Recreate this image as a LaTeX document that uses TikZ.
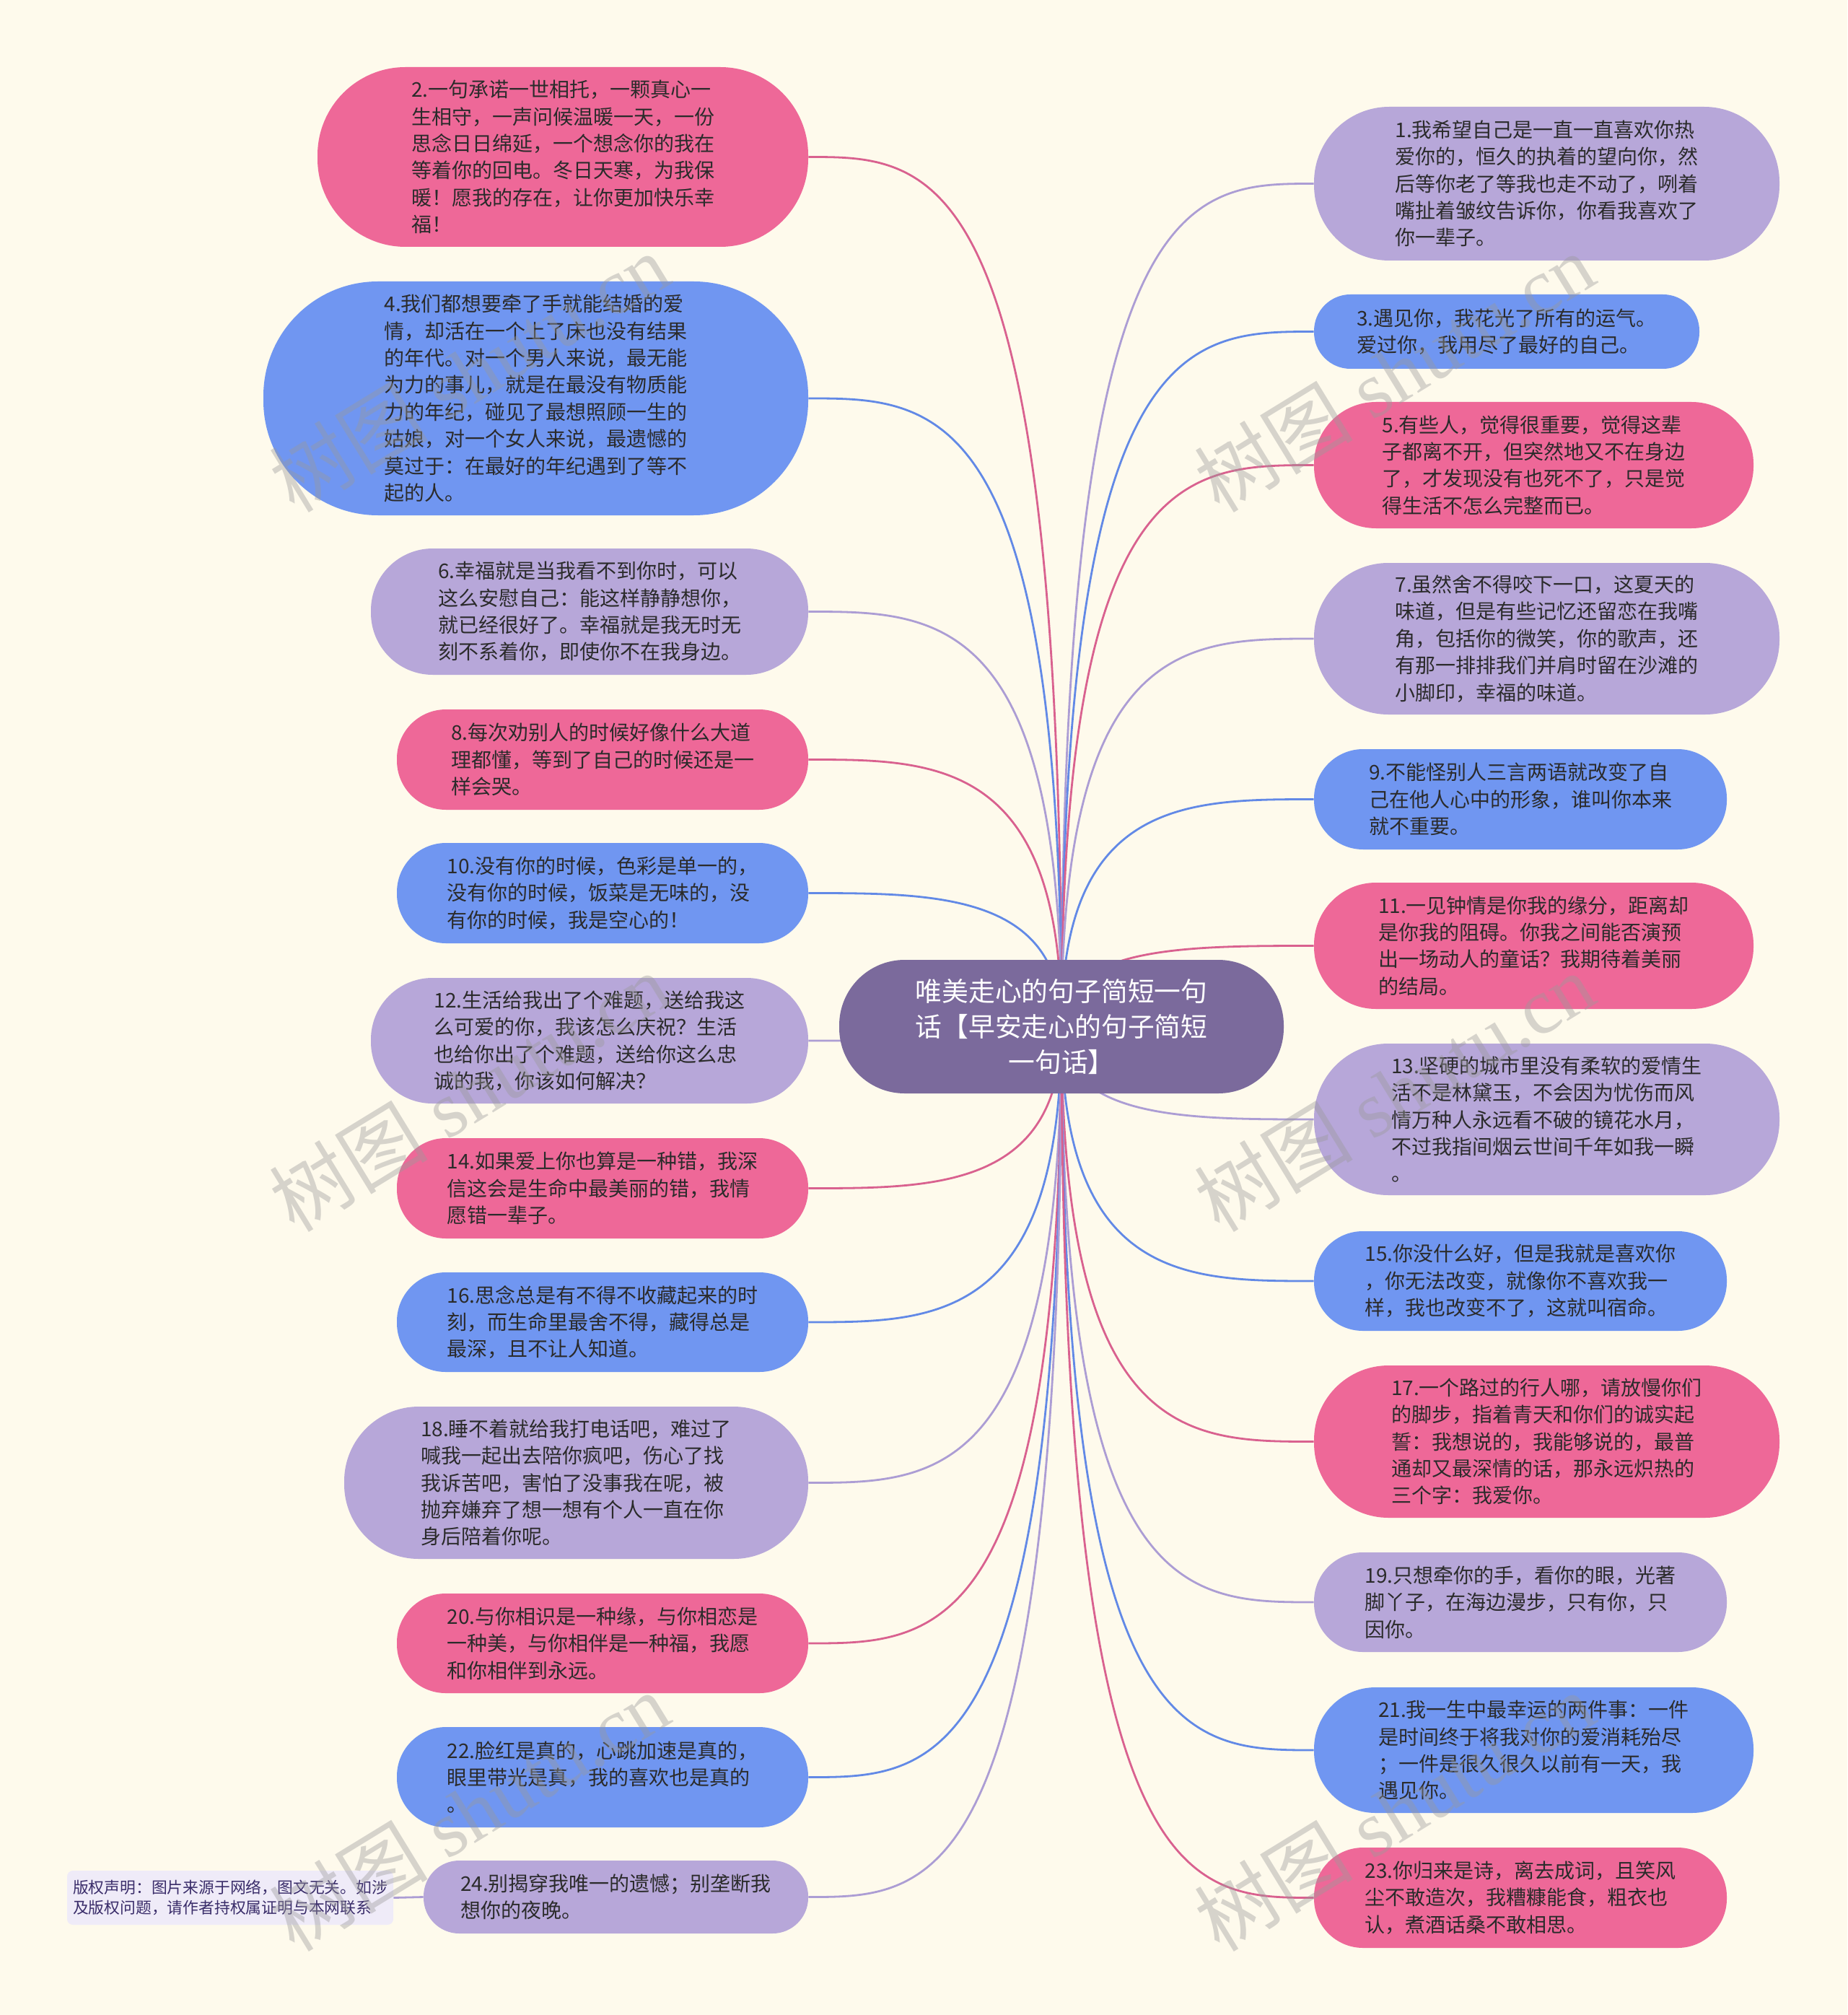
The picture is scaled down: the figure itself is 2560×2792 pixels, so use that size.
\documentclass[tikz,border=0pt]{standalone}
\usepackage{fontspec}
\newfontfamily\cjk{Noto Sans CJK SC}
\newfontfamily\wmfont{Liberation Serif}
\usetikzlibrary{calc,backgrounds}
\definecolor{bgc}{HTML}{FEFAEC}
\definecolor{pinkF}{HTML}{EE6898}
\definecolor{blueF}{HTML}{7096F1}
\definecolor{lavF}{HTML}{B7A7D9}
\definecolor{cenF}{HTML}{7B6A9C}
\definecolor{pinkL}{HTML}{D9618F}
\definecolor{blueL}{HTML}{6289E6}
\definecolor{lavL}{HTML}{AC9DD4}
\definecolor{txt}{HTML}{2B2B2B}
\definecolor{crF}{HTML}{EFEBF8}
\definecolor{crT}{HTML}{3A2D6A}
\definecolor{wmc}{HTML}{9A9A9A}
\newcommand{\mmlink}[2]{%
  \path (c.center |- #1) coordinate (tmpk);
  \draw[line width=1.4pt, #2] (c.center) .. controls (tmpk) and ($(tmpk)!0.5!(#1)$) .. (#1);}
\tikzset{
  bub/.style={align=left, inner sep=0pt, font=\cjk\fontsize{14pt}{18.7pt}\selectfont, text=txt},
  pk/.style={bub, fill=pinkF},
  bl/.style={bub, fill=blueF},
  lv/.style={bub, fill=lavF},
  sz/.style 2 args={minimum width=#1pt, minimum height=#2pt, rounded corners=0.49*#2pt},
  wm/.style={rotate=31.5, text=wmc, text opacity=0.4, font=\wmfont\fontsize{55pt}{60pt}\selectfont}
}
\begin{document}
\begin{tikzpicture}[x=0.5pt,y=-0.5pt]
\useasboundingbox (0,0) rectangle (2560,2792);
% centre
\node[fill=cenF, sz={308}{92.5}, align=center, text=white, inner sep=0pt,
  font=\cjk\fontsize{18.4pt}{24.5pt}\selectfont] (c) at (1471,1422.5)
  {唯美走心的句子简短一句\\话【早安走心的句子简短\\一句话】};
% left column
\node[pk, sz={340}{124.5}] (n2) at (780,217.5) {2.一句承诺一世相托，一颗真心一\\生相守，一声问候温暖一天，一份\\思念日日绵延，一个想念你的我在\\等着你的回电。冬日天寒，为我保\\暖！愿我的存在，让你更加快乐幸\\福！};
\node[bl, sz={377.5}{162}] (n4) at (742.5,552) {4.我们都想要牵了手就能结婚的爱\\情，却活在一个上了床也没有结果\\的年代。对一个男人来说，最无能\\为力的事儿，就是在最没有物质能\\力的年纪，碰见了最想照顾一生的\\姑娘，对一个女人来说，最遗憾的\\莫过于：在最好的年纪遇到了等不\\起的人。};
\node[lv, sz={303}{87.5}] (n6) at (817,847.5) {6.幸福就是当我看不到你时，可以\\这么安慰自己：能这样静静想你，\\就已经很好了。幸福就是我无时无\\刻不系着你，即使你不在我身边。};
\node[pk, sz={285}{69.5}] (n8) at (835,1052.5) {8.每次劝别人的时候好像什么大道\\理都懂，等到了自己的时候还是一\\样会哭。};
\node[bl, sz={285}{69.5}] (n10) at (835,1237.5) {10.没有你的时候，色彩是单一的，\\没有你的时候，饭菜是无味的，没\\有你的时候，我是空心的！};
\node[lv, sz={303}{87}] (n12) at (817,1442) {12.生活给我出了个难题，送给我这\\么可爱的你，我该怎么庆祝？生活\\也给你出了个难题，送给你这么忠\\诚的我，你该如何解决？};
\node[pk, sz={285}{69.5}] (n14) at (835,1646.5) {14.如果爱上你也算是一种错，我深\\信这会是生命中最美丽的错，我情\\愿错一辈子。};
\node[bl, sz={285}{69}] (n16) at (835,1832) {16.思念总是有不得不收藏起来的时\\刻，而生命里最舍不得，藏得总是\\最深，且不让人知道。};
\node[lv, sz={321.5}{105.5}] (n18) at (798.5,2054.5) {18.睡不着就给我打电话吧，难过了\\喊我一起出去陪你疯吧，伤心了找\\我诉苦吧，害怕了没事我在呢，被\\抛弃嫌弃了想一想有个人一直在你\\身后陪着你呢。};
\node[pk, sz={285}{69}] (n20) at (835,2277) {20.与你相识是一种缘，与你相恋是\\一种美，与你相伴是一种福，我愿\\和你相伴到永远。};
\node[bl, sz={285}{69.5}] (n22) at (835,2462.5) {22.脸红是真的，心跳加速是真的，\\眼里带光是真，我的喜欢也是真的\\。};
\node[lv, sz={266.5}{50.5}] (n24) at (853.5,2628.5) {24.别揭穿我唯一的遗憾；别垄断我\\想你的夜晚。};
% right column
\node[lv, sz={322.5}{106.5}] (n1) at (2143.5,254.5) {1.我希望自己是一直一直喜欢你热\\爱你的，恒久的执着的望向你，然\\后等你老了等我也走不动了，咧着\\嘴扯着皱纹告诉你，你看我喜欢了\\你一辈子。};
\node[bl, sz={267}{51.5}] (n3) at (2088,459.5) {3.遇见你，我花光了所有的运气。\\爱过你，我用尽了最好的自己。};
\node[pk, sz={304.5}{87.5}] (n5) at (2125.5,644.5) {5.有些人，觉得很重要，觉得这辈\\子都离不开，但突然地又不在身边\\了，才发现没有也死不了，只是觉\\得生活不怎么完整而已。};
\node[lv, sz={322.5}{105}] (n7) at (2143.5,885) {7.虽然舍不得咬下一口，这夏天的\\味道，但是有些记忆还留恋在我嘴\\角，包括你的微笑，你的歌声，还\\有那一排排我们并肩时留在沙滩的\\小脚印，幸福的味道。};
\node[bl, sz={286}{69.5}] (n9) at (2107,1107.5) {9.不能怪别人三言两语就改变了自\\己在他人心中的形象，谁叫你本来\\就不重要。};
\node[pk, sz={304.5}{87.5}] (n11) at (2125.5,1310.5) {11.一见钟情是你我的缘分，距离却\\是你我的阻碍。你我之间能否演预\\出一场动人的童话？我期待着美丽\\的结局。};
\node[lv, sz={322.5}{105}] (n13) at (2143.5,1551) {13.坚硬的城市里没有柔软的爱情生\\活不是林黛玉，不会因为忧伤而风\\情万种人永远看不破的镜花水月，\\不过我指间烟云世间千年如我一瞬\\。};
\node[bl, sz={286}{69}] (n15) at (2107,1775) {15.你没什么好，但是我就是喜欢你\\，你无法改变，就像你不喜欢我一\\样，我也改变不了，这就叫宿命。};
\node[pk, sz={322.5}{105.5}] (n17) at (2143.5,1997.5) {17.一个路过的行人哪，请放慢你们\\的脚步，指着青天和你们的诚实起\\誓：我想说的，我能够说的，最普\\通却又最深情的话，那永远炽热的\\三个字：我爱你。};
\node[lv, sz={286}{69}] (n19) at (2107,2220) {19.只想牵你的手，看你的眼，光著\\脚丫子，在海边漫步，只有你，只\\因你。};
\node[bl, sz={304.5}{87}] (n21) at (2125.5,2425) {21.我一生中最幸运的两件事：一件\\是时间终于将我对你的爱消耗殆尽\\；一件是很久很久以前有一天，我\\遇见你。};
\node[pk, sz={286}{69.5}] (n23) at (2107,2629.5) {23.你归来是诗，离去成词，且笑风\\尘不敢造次，我糟糠能食，粗衣也\\认，煮酒话桑不敢相思。};
% copyright box
\node[fill=crF, minimum width=226pt, minimum height=37.5pt, rounded corners=4pt, inner sep=0pt,
  align=left, text=crT, font=\cjk\fontsize{10.9pt}{14.2pt}\selectfont] (cr) at (319,2629.5)
  {版权声明：图片来源于网络，图文无关。如涉\\及版权问题，请作者持权属证明与本网联系};
% connectors and background
\begin{scope}[on background layer]
\fill[bgc] (0,0) rectangle (2560,2792);
\mmlink{n2.east}{pinkL}
\mmlink{n4.east}{blueL}
\mmlink{n6.east}{lavL}
\mmlink{n8.east}{pinkL}
\mmlink{n10.east}{blueL}
\mmlink{n12.east}{lavL}
\mmlink{n14.east}{pinkL}
\mmlink{n16.east}{blueL}
\mmlink{n18.east}{lavL}
\mmlink{n20.east}{pinkL}
\mmlink{n22.east}{blueL}
\mmlink{n24.east}{lavL}
\mmlink{n1.west}{lavL}
\mmlink{n3.west}{blueL}
\mmlink{n5.west}{pinkL}
\mmlink{n7.west}{lavL}
\mmlink{n9.west}{blueL}
\mmlink{n11.west}{pinkL}
\mmlink{n13.west}{lavL}
\mmlink{n15.west}{blueL}
\mmlink{n17.west}{pinkL}
\mmlink{n19.west}{lavL}
\mmlink{n21.west}{blueL}
\mmlink{n23.west}{pinkL}
\draw[line width=1.4pt, lavL] (cr.east) -- (n24.west);
\end{scope}
% watermarks
\node[wm] (w1) at (650,516) {{\cjk 树图} shutu.cn};
\node[wm] (w2) at (1932,516) {{\cjk 树图} shutu.cn};
\node[wm] (w3) at (650,1513) {{\cjk 树图} shutu.cn};
\node[wm] (w4) at (1932,1513) {{\cjk 树图} shutu.cn};
\node[wm] (w5) at (650,2510) {{\cjk 树图} shutu.cn};
\node[wm] (w6) at (1932,2510) {{\cjk 树图} shutu.cn};
\end{tikzpicture}
\end{document}
